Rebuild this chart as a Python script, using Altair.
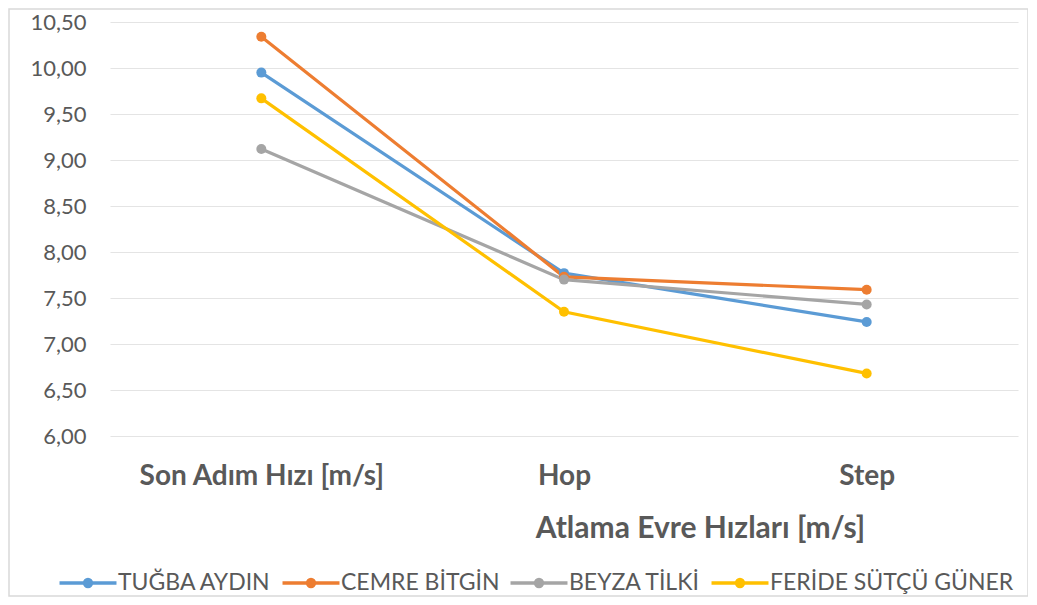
import altair as alt
import pandas as pd

categories = ["Son Adım Hızı [m/s]", "Hop", "Step"]
series = ["TUĞBA AYDIN", "CEMRE BİTGİN", "BEYZA TİLKİ", "FERİDE SÜTÇÜ GÜNER"]
tugba = [9.95, 7.77, 7.24]
cemre = [10.34, 7.73, 7.59]
beyza = [9.12, 7.70, 7.43]
feride = [9.67, 7.35, 6.68]
colors = ["#5B9BD5", "#ED7D31", "#A5A5A5", "#FFC000"]

rows = []
for name, vals in zip(series, [tugba, cemre, beyza, feride]):
    for i, (c, v) in enumerate(zip(categories, vals)):
        rows.append({"kategori": c, "deger": v, "sporcu": name, "ord": i})
df = pd.DataFrame(rows)

FONT = "Lato"
sym = "M-2,0H2M-0.24,0A0.24,0.24 0 1,1 0.24,0A0.24,0.24 0 1,1 -0.24,0"

color = alt.Color(
    "sporcu:N",
    scale=alt.Scale(domain=series, range=colors),
    sort=series,
    legend=alt.Legend(
        title=None,
        orient="none",
        direction="horizontal",
        legendX=-38,
        legendY=545,
        padding=0,
        symbolType=sym,
        symbolSize=812,
        symbolStrokeWidth=3.5,
        labelFont=FONT,
        labelFontSize=23,
        labelColor="#595959",
        labelOffset=14,
        labelLimit=0,
        columnPadding=3,
    ),
)

x = alt.X(
    "kategori:N",
    sort=categories,
    scale=alt.Scale(paddingInner=0, paddingOuter=0),
    axis=alt.Axis(
        title="Atlama Evre Hızları [m/s]",
        titleFont=FONT,
        titleFontSize=30,
        titleFontWeight="bold",
        titleColor="#595959",
        titleX=590,
        titleY=77,
        titleAlign="center",
        labelAngle=0,
        labelFont=FONT,
        labelFontSize=28,
        labelFontWeight="bold",
        labelColor="#595959",
        labelPadding=26,
        labelLimit=0,
        domain=False,
        ticks=False,
        grid=False,
    ),
)

y = alt.Y(
    "deger:Q",
    scale=alt.Scale(domain=[6.0, 10.5], nice=False, zero=False),
    axis=alt.Axis(
        title=None,
        values=[6.0, 6.5, 7.0, 7.5, 8.0, 8.5, 9.0, 9.5, 10.0, 10.5],
        labelExpr="replace(format(datum.value, '.2f'), '.', ',')",
        labelFont=FONT,
        labelFontSize=22,
        labelColor="#595959",
        labelPadding=24,
        domain=False,
        ticks=False,
        gridColor="#E4E4E4",
        gridWidth=1.2,
    ),
)

lines = alt.Chart(df).mark_line(strokeWidth=3.2).encode(
    x=x, y=y, color=color, order="ord:Q"
)
points = alt.Chart(df).mark_circle(size=100, opacity=1).encode(
    x=x,
    y=y,
    color=alt.Color("sporcu:N", scale=alt.Scale(domain=series, range=colors), legend=None),
)
border = alt.Chart(alt.Data(values=[{"k": 1}])).mark_rect(
    filled=False, stroke="#D9D9D9", strokeWidth=1.5
).encode(
    x=alt.value(-101), x2=alt.value(918), y=alt.value(-13), y2=alt.value(574)
)

chart = (
    alt.layer(border, lines, points)
    .resolve_scale(color="independent")
    .properties(
        width=908,
        height=414,
        autosize=alt.AutoSizeParams(type="none"),
        padding={"left": 102, "top": 14, "right": 10, "bottom": 161},
        background="white",
    )
    .configure_view(stroke=None)
)

chart.save("out.html", embed_options={"renderer": "svg", "actions": False})
